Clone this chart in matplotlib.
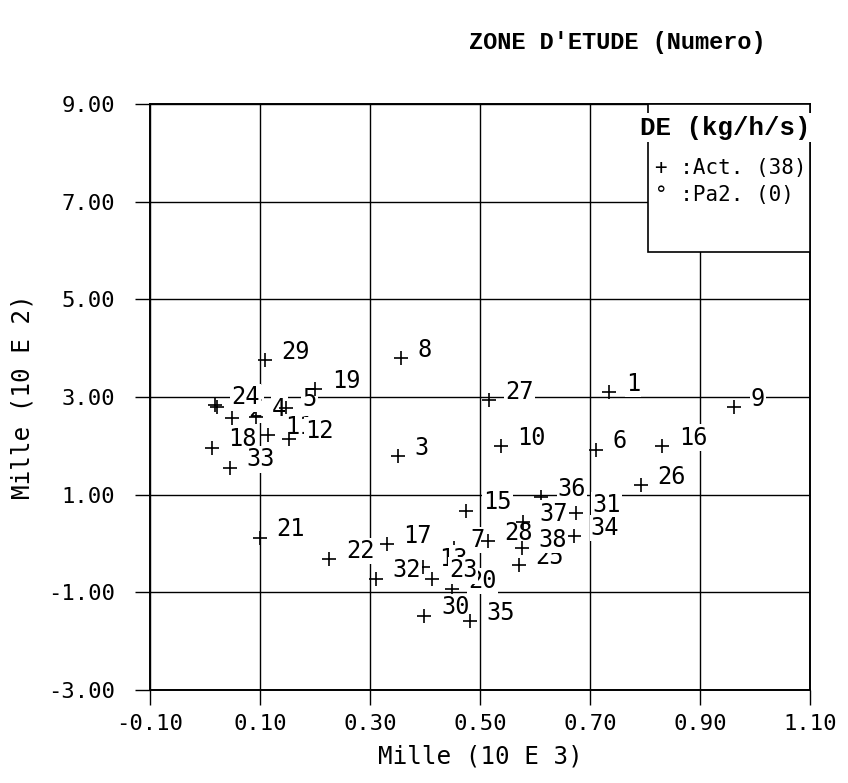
import matplotlib
matplotlib.use("Agg")
import matplotlib.pyplot as plt
from matplotlib.patches import Rectangle

# zones d'etude : numero, abscisse (10 E 3) et ordonnee (10 E 2)
numeros = list(range(1, 39))
x_zone = [0.735, 0.049, 0.350, 0.092, 0.147, 0.710, 0.453, 0.356, 0.962, 0.538,
          0.115, 0.152, 0.396, 0.022, 0.475, 0.831, 0.330, 0.012, 0.200, 0.449,
          0.100, 0.226, 0.413, 0.018, 0.570, 0.792, 0.516, 0.514, 0.109, 0.399,
          0.674, 0.311, 0.045, 0.671, 0.481, 0.611, 0.578, 0.576]
y_zone = [3.10, 2.57, 1.79, 2.59, 2.78, 1.92, -0.10, 3.80, 2.79, 1.99,
          2.22, 2.14, -0.48, 2.80, 0.67, 2.00, -0.02, 1.96, 3.16, -0.94,
          0.12, -0.32, -0.72, 2.83, -0.45, 1.19, 2.93, 0.05, 3.76, -1.48,
          0.62, -0.72, 1.55, 0.15, -1.59, 0.95, 0.44, -0.10]

x_ticks = [-0.10, 0.10, 0.30, 0.50, 0.70, 0.90, 1.10]
y_ticks = [-3.00, -1.00, 1.00, 3.00, 5.00, 7.00, 9.00]

mono = "DejaVu Sans Mono"
gras = "Liberation Mono"

fig = plt.figure(figsize=(8.48, 7.83), dpi=100)
ax = fig.add_axes([150 / 848, 93 / 783, 660 / 848, 586 / 783])
ax.set_xlim(-0.10, 1.10)
ax.set_ylim(-3.0, 9.0)

ax.set_xticks(x_ticks)
ax.set_xticklabels(["%.2f" % v for v in x_ticks], family=mono, fontsize=16)
ax.set_yticks(y_ticks)
ax.set_yticklabels(["%.2f" % v for v in y_ticks], family=mono, fontsize=16)
ax.tick_params(direction="out", length=11, width=1.0, color="black")
ax.tick_params(axis="y", pad=14)
ax.tick_params(axis="x", pad=6)

ax.grid(True, color="black", linewidth=1.0)
ax.set_axisbelow(True)
for sp in ax.spines.values():
    sp.set_linewidth(1.4)

ax.set_xlabel("Mille (10 E 3)", family=mono, fontsize=17.5, labelpad=8)
ax.set_ylabel("Mille (10 E 2)", family=mono, fontsize=17.5, labelpad=10)

# chaque etiquette efface ce qui est dessous (fond blanc)
for i, (n, x, y) in enumerate(zip(numeros, x_zone, y_zone)):
    z = 3 + i * 0.02
    ax.plot(x, y, marker="+", ms=10, mew=1.2, color="black", ls="none", zorder=z)
    ax.annotate(str(n), (x, y), xytext=(12, 6), textcoords="offset points",
                ha="left", va="center", fontsize=17, family=mono,
                bbox=dict(boxstyle="square,pad=0.05", fc="white", ec="none"),
                zorder=z + 0.01)

# cartouche de legende
ax.add_patch(Rectangle((0.805, 5.97), 0.295, 3.03, fc="white", ec="black",
                       lw=1.2, zorder=10))
ax.text(0.791, 8.51, "DE (kg/h/s)", family=gras, weight="bold", fontsize=18.5,
        ha="left", va="center", zorder=11,
        bbox=dict(boxstyle="square,pad=0.1", fc="white", ec="none"))
ax.text(0.818, 7.69, "+ :Act. (38)", family=mono, fontsize=15,
        ha="left", va="center", zorder=11)
ax.text(0.818, 7.14, "° :Pa2. (0)", family=mono, fontsize=15,
        ha="left", va="center", zorder=11)

fig.text(0.728, 0.946, "ZONE D'ETUDE (Numero)", family=gras, weight="bold",
         fontsize=17, ha="center", va="center")

fig.savefig("out.png", dpi=100)
